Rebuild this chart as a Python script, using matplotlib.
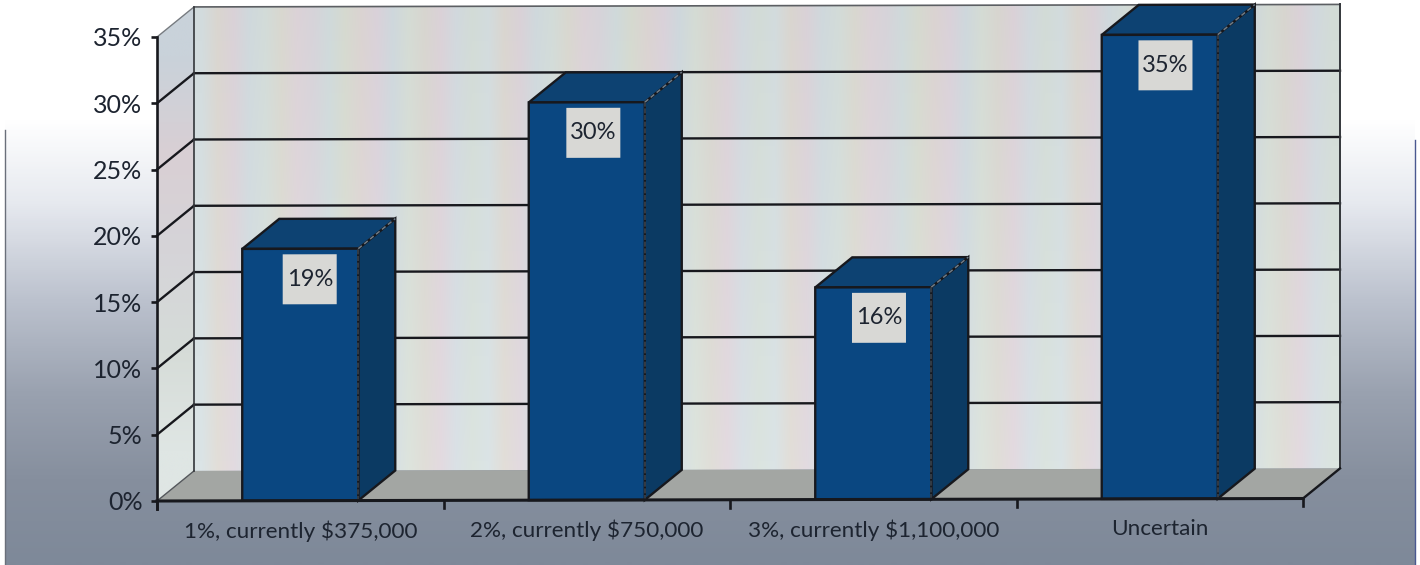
import numpy as np
import matplotlib
matplotlib.use("Agg")
import matplotlib.pyplot as plt
from matplotlib.colors import LinearSegmentedColormap, to_rgb
from matplotlib.patches import Polygon, Rectangle
from matplotlib.transforms import Affine2D

categories = ["1%, currently $375,000", "2%, currently $750,000",
              "3%, currently $1,100,000", "Uncertain"]
values = [19, 30, 16, 35]
y_ticks = [0, 5, 10, 15, 20, 25, 30, 35]

W, H = 1420, 565
plt.rcParams["font.family"] = ["Lato", "DejaVu Sans"]
text_col = "#1d2430"
line_col = "#17181d"

fig = plt.figure(figsize=(W / 100, H / 100), dpi=100, facecolor="white")

# page background, white on top fading to slate grey
bg = fig.add_axes([0, 0, 1, 1], zorder=0)
bg.axis("off")
fade = LinearSegmentedColormap.from_list("fade", [
    (0.0, "#ffffff"), (0.21, "#ffffff"), (0.36, "#e6e9ef"), (0.53, "#bcc2ce"),
    (0.7, "#99a1af"), (0.85, "#868f9e"), (1.0, "#7e8999")])
bg.imshow(np.linspace(0, 1, 300)[:, None], cmap=fade, aspect="auto",
          extent=(5, 1415, H, 0), interpolation="bilinear")
bg.set_xlim(0, W)
bg.set_ylim(H, 0)
bg.plot([5, 5], [130, H], color="#6a6f7a", lw=1.0)
bg.plot([1415, 1415], [140, H], color="#4a5890", lw=1.0)

# plot area, x is category position, y is percent
ax = fig.add_axes([157 / W, 1 - 501 / H, 1146 / W, 464 / H], zorder=1)
ax.patch.set_visible(False)

dx = 37 / 286.5   # depth of the 3d box in data units
dy = 30 / 13.26
skew = (2.5 / 13.26) / 4  # whole chart leans up slightly to the right
tr = Affine2D.from_values(1, skew, 0, 1, 0, 0) + ax.transData

# back wall with pastel vertical bands, a little lighter toward the floor
band_cols = ["#d2dbdd", "#d9d5cf", "#d9d1d7", "#cfd8dc", "#d2dbd8", "#d8d7cf",
             "#dbd2d7", "#d6d3d9", "#cfd9da", "#d5d9cf", "#dad3d1", "#d9d1d9",
             "#ced7dc", "#d4dbd4", "#d7d5cf", "#dad1d7", "#d1d8dd", "#d2dbd6"]
bands = np.array([to_rgb(c) for c in band_cols * 4])[None, :, :]
n_rows = 60
lift = np.linspace(0, 0.04, n_rows)[:, None, None]
wall_img = np.clip(np.repeat(bands, n_rows, axis=0) + lift, 0, 1)
wall = Polygon([(dx, dy), (4 + dx, dy), (4 + dx, 35 + dy), (dx, 35 + dy)],
               closed=True, transform=tr, fc="none", ec="none", zorder=3)
ax.add_patch(wall)
wall.set_clip_on(False)
im = ax.imshow(wall_img, extent=(dx, 4 + dx, -2, 39), aspect="auto",
               interpolation="bilinear", zorder=1)
im.set_clip_box(fig.bbox)
im.set_clip_path(wall)

# left side wall
side_cols = ["#c9d2da", "#d9cfd4", "#d5d4d8", "#d6dcd8", "#dfe6e4"]
side_img = np.array([to_rgb(c) for c in side_cols])[:, None, :]
side = Polygon([(0, 0), (dx, dy), (dx, 35 + dy), (0, 35)], closed=True,
               transform=tr, fc="none", ec="none", zorder=3)
ax.add_patch(side)
side.set_clip_on(False)
im2 = ax.imshow(side_img, extent=(0, dx, 0, 35 + dy), aspect="auto",
                interpolation="bilinear", zorder=1)
im2.set_clip_box(fig.bbox)
im2.set_clip_path(side)

# floor
ax.add_patch(Polygon([(0, 0), (dx, dy), (4 + dx, dy), (4, 0)], closed=True, transform=tr,
                     fc="#a3a6a3", ec="none", zorder=2, clip_on=False))

# grid on the walls
for t in y_ticks[1:-1]:
    ax.plot([dx, 4 + dx], [t + dy, t + dy], color=line_col, lw=1.7, transform=tr,
            zorder=4, clip_on=False)
    ax.plot([0, dx], [t, t + dy], color=line_col, lw=1.7, transform=tr, zorder=4, clip_on=False)
ax.plot([dx, 4 + dx], [35 + dy, 35 + dy], color="#5c5f63", lw=1.2, transform=tr, zorder=4, clip_on=False)
ax.plot([0, dx], [35, 35 + dy], color="#777b80", lw=1.0, transform=tr, zorder=4, clip_on=False)
ax.plot([0, dx], [0, dy], color="#55585c", lw=1.0, transform=tr, zorder=4, clip_on=False)
ax.plot([dx, dx], [dy, 35 + dy], color="#33363a", lw=1.2, transform=tr, zorder=4, clip_on=False)
ax.plot([4 + dx, 4 + dx], [dy, 35 + dy], color="#33363a", lw=1.4, transform=tr, zorder=4, clip_on=False)
ax.plot([4, 4 + dx], [0, dy], color=line_col, lw=1.7, transform=tr, zorder=4, clip_on=False)

# bars, front face then side and top
x = np.arange(len(values)) + 0.5
bar_w = 0.405
ax.bar(x, values, width=bar_w, color="#0a4781", edgecolor=line_col, linewidth=1.7,
       transform=tr, zorder=6, clip_on=False)
for xc, v in zip(x, values):
    l, r = xc - bar_w / 2, xc + bar_w / 2
    ax.add_patch(Polygon([(r, 0), (r + dx, dy), (r + dx, v + dy), (r, v)], closed=True,
                         transform=tr, fc="#0b3a63", ec=line_col, lw=1.7, zorder=5, clip_on=False))
    ax.add_patch(Polygon([(l, v), (l + dx, v + dy), (r + dx, v + dy), (r, v)], closed=True,
                         transform=tr, fc="#0d4272", ec=line_col, lw=1.7, zorder=5, clip_on=False))
    # the hidden box edges come out as faint dashes
    ax.plot([r, r + dx], [v, v + dy], color="#6f7c88", lw=1.1, ls=(0, (3, 2)), transform=tr,
            zorder=7, clip_on=False)
    ax.plot([r, r], [0, v], color="#39424c", lw=1.2, ls=(0, (3, 1)), transform=tr,
            zorder=7, clip_on=False)

# value labels on small boxes
label_shift = [0.033, 0.023, 0.02, 0.02]
box_w, box_h = 54 / 286.5, 50 / 13.26
for xc, v, s in zip(x, values, label_shift):
    ax.add_patch(Rectangle((xc + s - box_w / 2, v - 2.3 - box_h / 2), box_w, box_h, transform=tr,
                           fc="#d8d8d5", ec="none", zorder=8, clip_on=False))
    ax.text(xc + s, v - 2.3, f"{v}%", ha="center", va="center", fontsize=17, color=text_col,
            transform=tr, zorder=9, clip_on=False)

# axes
ax.set_xlim(0, 4)
ax.set_ylim(0, 35)
for name in ["top", "right", "bottom"]:
    ax.spines[name].set_visible(False)
ax.spines["left"].set_linewidth(1.9)
ax.spines["left"].set_color(line_col)
ax.spines["left"].set_bounds(-0.6, 35)
ax.spines["left"].set_zorder(8)
ax.set_yticks(y_ticks)
ax.set_yticklabels([f"{t}%" for t in y_ticks], fontsize=18, color=text_col)
ax.tick_params(axis="y", length=4.5, width=1.9, color=line_col, pad=6)
ax.set_xticks([])

ax.plot([0, 4], [0, 0], color=line_col, lw=2.2, transform=tr, zorder=8, clip_on=False)
for t in range(5):
    ax.plot([t, t], [0, -0.6], color=line_col, lw=1.9, transform=tr, zorder=8, clip_on=False)
for xc, name in zip(x, categories):
    ax.text(xc, -2.3, name, ha="center", va="center", fontsize=16.2, color=text_col,
            transform=tr, zorder=8, clip_on=False)

fig.savefig("out.png", dpi=100)
